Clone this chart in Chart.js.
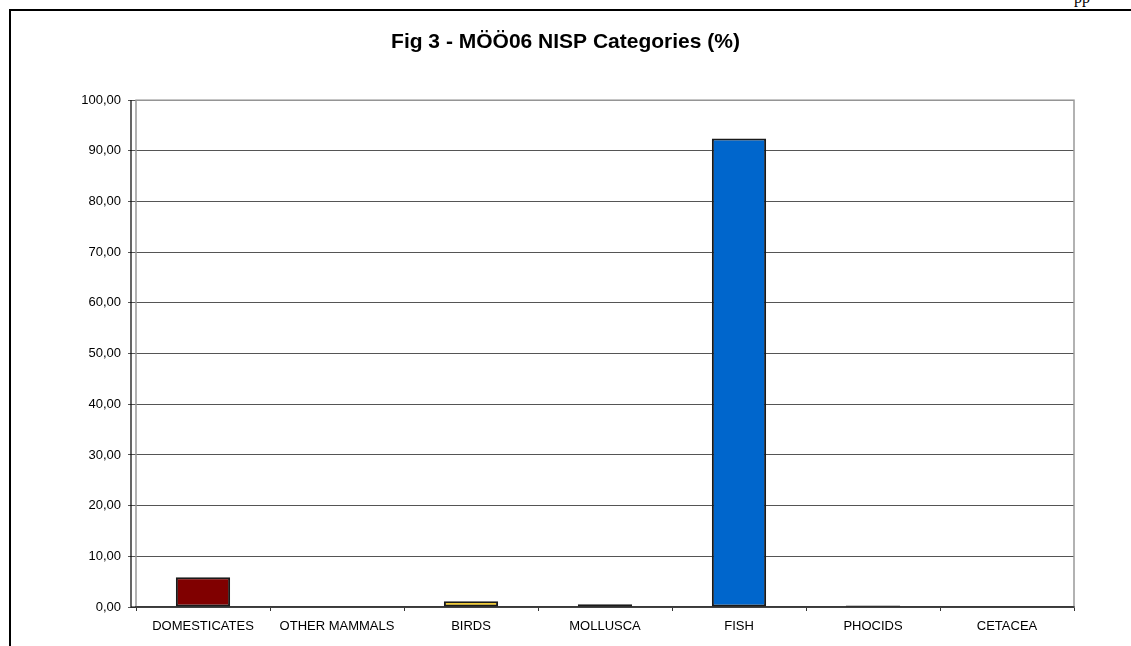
<!DOCTYPE html>
<html>
<head>
<meta charset="utf-8">
<script src="https://cdn.jsdelivr.net/npm/chart.js@4.4.1/dist/chart.umd.min.js"></script>
<style>
    html, body { margin: 0; padding: 0; background: #fff; overflow: hidden; }
    #frame {
        position: absolute; left: 9px; top: 9px;
        width: 1200px; height: 700px;
        border: 2px solid #000;
    }
    #pagetext {
        position: absolute; left: 1074px; top: -10px;
        font: 16px "Liberation Serif", "Times New Roman", serif;
        line-height: 16px; color: #000;
    }
    #wrap { position: absolute; left: 0; top: 0; width: 1131px; height: 646px; }
</style>
</head>
<body>
<div id="pagetext">pp</div>
<div id="frame"></div>
<div id="wrap"><canvas id="nispChart"></canvas></div>
<script>
// Dados
const categories = ['DOMESTICATES', 'OTHER MAMMALS', 'BIRDS', 'MOLLUSCA', 'FISH', 'PHOCIDS', 'CETACEA'];
const nispPercent = [5.87, 0, 1.13, 0.53, 92.43, 0.3, 0];
const barColors = ['#800000', '#993366', '#FFCC00', '#595959', '#0066CC', '#000000', '#808080'];
const yTicks = [0, 10, 20, 30, 40, 50, 60, 70, 80, 90, 100];

// Moldura da área de plotagem + eixo preto deslocado (estilo Excel)
const plotFrame = {
    id: 'plotFrame',
    beforeDatasetsDraw(chart) {
        const { ctx, chartArea: a } = chart;
        ctx.save();
        ctx.strokeStyle = '#999';
        ctx.lineWidth = 1.5;
        ctx.strokeRect(a.left, a.top, a.right - a.left, a.bottom - a.top);
        ctx.strokeStyle = '#000';
        ctx.lineWidth = 1.2;
        ctx.beginPath();
        ctx.moveTo(a.left - 5, a.top);
        ctx.lineTo(a.left - 5, a.bottom);
        ctx.lineTo(a.right, a.bottom);
        ctx.stroke();
        ctx.restore();
    }
};

new Chart(document.getElementById('nispChart'), {
    type: 'bar',
    data: {
        labels: categories,
        datasets: [{
            data: nispPercent,
            backgroundColor: barColors,
            borderColor: '#1a1a1a',
            borderWidth: 2,
            borderSkipped: false,
            categoryPercentage: 1,
            barPercentage: 0.405
        }]
    },
    options: {
        responsive: true,
        maintainAspectRatio: false,
        animation: false,
        layout: { padding: 0 },
        plugins: {
            legend: { display: false },
            tooltip: { enabled: false },
            title: {
                display: true,
                text: 'Fig 3 - MÖÖ06 NISP Categories (%)',
                color: '#000',
                font: { family: 'Arial, "Liberation Sans", sans-serif', size: 21, weight: 'bold', lineHeight: 1.2 },
                padding: { top: 30, bottom: 45 }
            }
        },
        scales: {
            x: {
                grid: { drawOnChartArea: false, drawTicks: true, tickLength: 4, color: '#333', offset: true },
                border: { display: true, color: '#000', width: 1.2 },
                ticks: {
                    color: '#000',
                    padding: 8,
                    maxRotation: 0,
                    autoSkip: false,
                    font: { family: 'Arial, "Liberation Sans", sans-serif', size: 13 }
                },
                afterFit(s) { s.height = 39; }
            },
            y: {
                min: 0,
                max: 100,
                afterBuildTicks(s) { s.ticks = yTicks.map(v => ({ value: v })); },
                grid: { color: '#555', lineWidth: 1, tickLength: 8 },
                border: { display: false },
                ticks: {
                    color: '#000',
                    padding: 7,
                    font: { family: 'Arial, "Liberation Sans", sans-serif', size: 13 },
                    callback: v => v.toFixed(2).replace('.', ',')
                },
                afterFit(s) { s.width = 136; }
            },
            yRight: {
                position: 'right',
                display: true,
                grid: { display: false },
                border: { display: false },
                ticks: { display: false },
                afterFit(s) { s.width = 57; }
            }
        }
    },
    plugins: [plotFrame]
});
</script>
</body>
</html>
